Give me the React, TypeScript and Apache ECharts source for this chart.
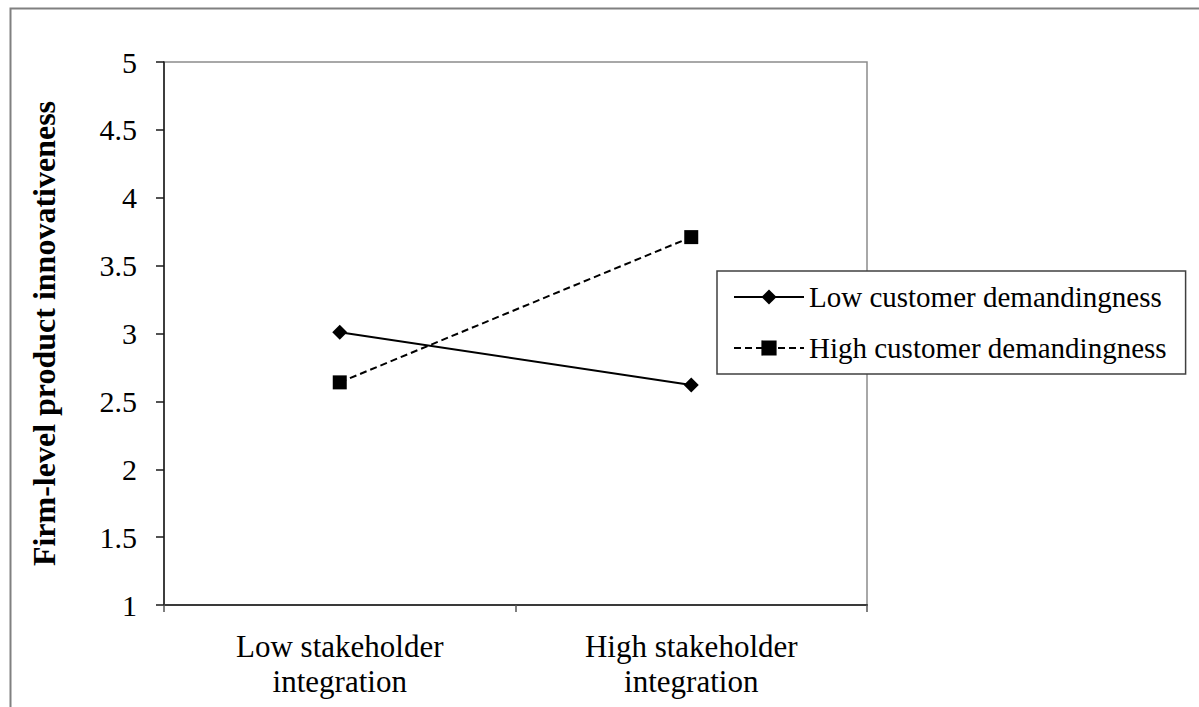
import React, { useEffect, useRef } from "react";
import * as echarts from "echarts";

const categories = ["Low stakeholder\nintegration", "High stakeholder\nintegration"];
const lowCustomer = [3.01, 2.62];
const highCustomer = [2.64, 3.71];
const seriesNames = ["Low customer demandingness", "High customer demandingness"];
const yAxisName = "Firm-level product innovativeness";
const yMin = 1;
const yMax = 5;
const yInterval = 0.5;

const FONT = "'Liberation Serif', 'Times New Roman', serif";

export default function App() {
  const ref = useRef<HTMLDivElement>(null);
  useEffect(() => {
    if (!ref.current) return;
    const chart = echarts.init(ref.current, undefined, { renderer: "svg" });
    chart.setOption({
      animation: false,
      backgroundColor: "#ffffff",
      graphic: [
        {
          type: "rect",
          left: 8,
          top: 6,
          shape: { x: 0, y: 0, width: 1300, height: 800 },
          style: { fill: "none", stroke: "#808080", lineWidth: 2 },
          silent: true,
        },
      ],
      grid: {
        left: 164,
        top: 62,
        right: 332,
        bottom: 102,
        show: true,
        borderColor: "#8c8c8c",
        borderWidth: 1.5,
        backgroundColor: "transparent",
      },
      legend: {
        orient: "vertical",
        left: 717,
        top: 271,
        padding: [11, 19, 11, 16],
        itemGap: 21,
        itemWidth: 70,
        itemHeight: 19,
        borderColor: "#404040",
        borderWidth: 1.5,
        backgroundColor: "#ffffff",
        lineStyle: { width: 2 },
        textStyle: { fontFamily: FONT, fontSize: 29, color: "#000", lineHeight: 30 },
        data: seriesNames,
      },
      xAxis: {
        type: "category",
        data: categories,
        boundaryGap: true,
        axisLine: { show: true, lineStyle: { color: "#3a3a3a", width: 2 } },
        axisTick: { show: true, length: 7, alignWithLabel: false, lineStyle: { color: "#555", width: 1.5 } },
        axisLabel: {
          fontFamily: FONT,
          fontSize: 31,
          color: "#000",
          lineHeight: 35,
          margin: 24,
        },
        splitLine: { show: false },
      },
      yAxis: {
        type: "value",
        min: yMin,
        max: yMax,
        interval: yInterval,
        name: yAxisName,
        nameLocation: "middle",
        nameGap: 104,
        nameRotate: 90,
        nameTextStyle: { fontFamily: FONT, fontSize: 32, fontWeight: "bold", color: "#000" },
        axisLine: { show: true, lineStyle: { color: "#1a1a1a", width: 1.5 } },
        axisTick: { show: true, length: 8, lineStyle: { color: "#1a1a1a", width: 1.5 } },
        axisLabel: { fontFamily: FONT, fontSize: 30, color: "#000", margin: 27 },
        splitLine: { show: false },
      },
      series: [
        {
          name: seriesNames[0],
          type: "line",
          data: lowCustomer,
          symbol: "diamond",
          symbolSize: 15,
          itemStyle: { color: "#000" },
          lineStyle: { color: "#000", width: 2, type: "solid" },
        },
        {
          name: seriesNames[1],
          type: "line",
          data: highCustomer,
          symbol: "rect",
          symbolSize: 14,
          itemStyle: { color: "#000" },
          lineStyle: { color: "#000", width: 2, type: [7, 4] },
        },
      ],
    });
    return () => chart.dispose();
  }, []);
  return (
    <div
      ref={ref}
      style={{ position: "absolute", left: 0, top: 0, width: 1199, height: 707 }}
    />
  );
}
